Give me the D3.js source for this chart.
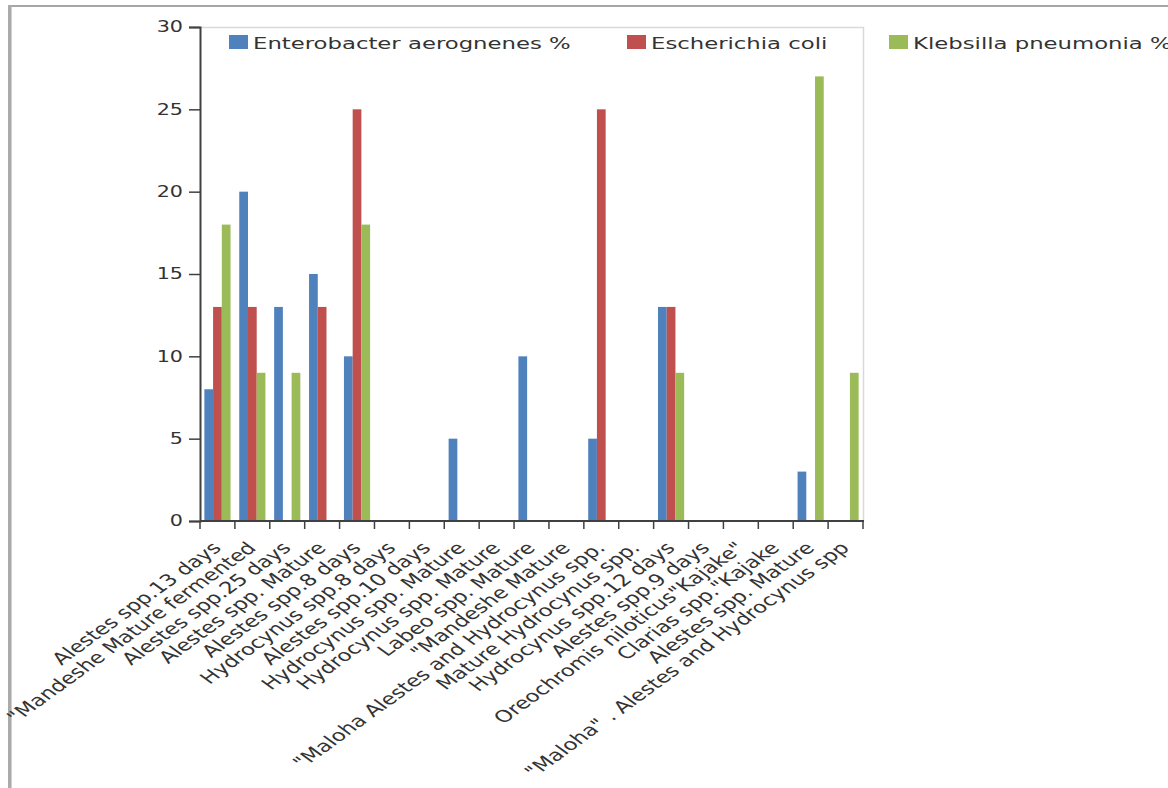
<!DOCTYPE html>
<html>
<head>
<meta charset="utf-8">
<script src="https://cdn.jsdelivr.net/npm/d3@7"></script>
<style>
    html, body { margin: 0; padding: 0; background: #fff; overflow: hidden; }
    svg { display: block; }
    text { font-family: "DejaVu Sans", Verdana, sans-serif; fill: #333; }
</style>
</head>
<body>
<svg id="chart" width="1168" height="788"></svg>
<script>

// categories along the x axis
var categories = [
    "Alestes spp.13 days",
    "\"Mandeshe Mature fermented",
    "Alestes spp.25 days",
    "Alestes spp. Mature",
    "Alestes spp.8 days",
    "Hydrocynus spp.8 days",
    "Alestes spp.10 days",
    "Hydrocynus spp. Mature",
    "Hydrocynus spp. Mature",
    "Labeo spp. Mature",
    "\"Mandeshe Mature",
    "\"Maloha Alestes and Hydrocynus spp.",
    "Mature Hydrocynus spp.",
    "Hydrocynus spp.12 days",
    "Alestes spp.9 days",
    "Oreochromis niloticus\"Kajake\"",
    "Clarias spp.\"Kajake",
    "Alestes spp. Mature",
    "\"Maloha\" . Alestes and Hydrocynus spp"
];

var series_names = ["Enterobacter aerognenes %", "Escherichia coli", "Klebsilla pneumonia %"];
var series_colors = ["#4f81bd", "#c0504d", "#9bbb59"];

var enterobacter = [8, 20, 13, 15, 10, 0, 0, 5, 0, 10, 0, 5, 0, 13, 0, 0, 0, 3, 0];
var ecoli        = [13, 13, 0, 13, 25, 0, 0, 0, 0, 0, 0, 25, 0, 13, 0, 0, 0, 0, 0];
var klebsilla    = [18, 9, 9, 0, 18, 0, 0, 0, 0, 0, 0, 0, 0, 9, 0, 0, 0, 27, 9];

var y_ticks = [0, 5, 10, 15, 20, 25, 30];

// the picture is stretched sideways, so text is too
var SX = 1.38;

var svg = d3.select("#chart");

var plot = { left: 200, right: 863, top: 27, bottom: 521 };

var x0 = d3.scaleBand()
    .domain(d3.range(categories.length))
    .range([plot.left, plot.right])
    .padding(0);

var x1 = d3.scaleBand()
    .domain(d3.range(series_names.length))
    .range([0, x0.bandwidth()])
    .paddingInner(0)
    .paddingOuter(0.5);

var y = d3.scaleLinear().domain([0, 30]).range([plot.bottom, plot.top]);

// outer frame (only top and left show)
svg.append("rect").attr("x", 8).attr("y", 5).attr("width", 1160).attr("height", 2)
    .attr("fill", "#a6a6a6");
svg.append("rect").attr("x", 8).attr("y", 5).attr("width", 4).attr("height", 783)
    .attr("fill", "#ababab");
svg.append("rect").attr("x", 11).attr("y", 7).attr("width", 1).attr("height", 781)
    .attr("fill", "#d0d0d0");

// plot area border (top and right)
svg.append("path")
    .attr("d", "M" + plot.left + "," + (plot.top + 0.5) + "H" + (plot.right + 0.5) + "V" + plot.bottom)
    .attr("fill", "none")
    .attr("stroke", "#d9d9d9")
    .attr("stroke-width", 1.5);

// bars
var data = [enterobacter, ecoli, klebsilla];
var groups = svg.append("g");
data.forEach(function(vals, s) {
    groups.selectAll(null)
        .data(vals)
        .enter().append("rect")
        .attr("x", function(d, i) { return x0(i) + x1(s); })
        .attr("y", function(d) { return y(d); })
        .attr("width", x1.bandwidth())
        .attr("height", function(d) { return y(0) - y(d); })
        .attr("fill", series_colors[s]);
});

// y axis
var yAxis = svg.append("g")
    .attr("transform", "translate(" + plot.left + ",0)")
    .call(d3.axisLeft(y).tickValues(y_ticks).tickSize(11).tickFormat(""));
yAxis.select(".domain").attr("stroke", "#404040").attr("stroke-width", 2);
yAxis.selectAll(".tick line").attr("stroke", "#404040").attr("stroke-width", 1.5);

svg.append("g").selectAll("text")
    .data(y_ticks)
    .enter().append("text")
    .attr("transform", function(d) { return "translate(183," + y(d) + ") scale(" + SX + ",1)"; })
    .attr("text-anchor", "end")
    .attr("dy", "0.35em")
    .style("font-size", "15px")
    .text(function(d) { return d; });

// x axis
var xAxis = svg.append("g")
    .attr("transform", "translate(0," + plot.bottom + ")");
xAxis.append("line")
    .attr("x1", plot.left).attr("x2", plot.right + 1)
    .attr("y1", 0).attr("y2", 0)
    .attr("stroke", "#404040").attr("stroke-width", 2);
var edges = d3.range(categories.length + 1).map(function(i) {
    return i < categories.length ? x0(i) : plot.right;
});
xAxis.selectAll(".xtick")
    .data(edges)
    .enter().append("line")
    .attr("x1", function(d) { return d; })
    .attr("x2", function(d) { return d; })
    .attr("y1", 0).attr("y2", 8)
    .attr("stroke", "#404040").attr("stroke-width", 1.5);

svg.append("g").selectAll("text")
    .data(categories)
    .enter().append("text")
    .attr("transform", function(d, i) {
        var cx = x0(i) + x0.bandwidth() / 2 + 5;
        return "translate(" + cx + ",549) scale(" + SX + ",1) rotate(-45)";
    })
    .attr("text-anchor", "end")
    .style("font-size", "16.5px")
    .text(function(d) { return d; });

// legend
var legend_x = [229, 627, 889];
var legend = svg.append("g");
series_names.forEach(function(name, s) {
    legend.append("rect")
        .attr("x", legend_x[s]).attr("y", 35)
        .attr("width", 19).attr("height", 14)
        .attr("fill", series_colors[s]);
    legend.append("text")
        .attr("transform", "translate(" + (legend_x[s] + 24) + ",43) scale(" + SX + ",1)")
        .attr("dy", "0.35em")
        .style("font-size", "16.5px")
        .text(name);
});

</script>
</body>
</html>
